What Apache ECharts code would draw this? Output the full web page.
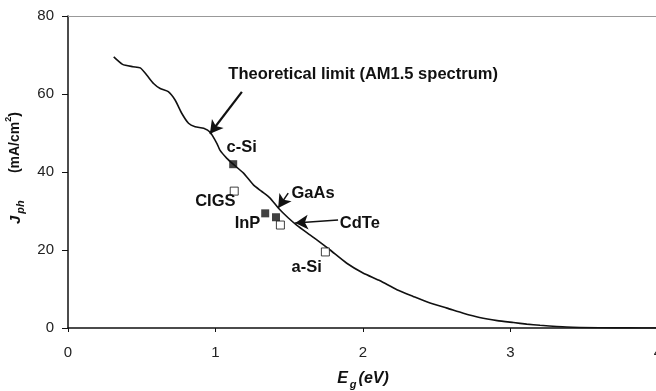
<!DOCTYPE html>
<html>
<head>
<meta charset="utf-8">
<script src="https://cdn.jsdelivr.net/npm/echarts@6/dist/echarts.min.js"></script>
<style>
html,body{margin:0;padding:0;background:#fff;}
#chart{width:656px;height:391px;}
</style>
</head>
<body>
<div id="chart"></div>
<script>
// Theoretical limit curve (AM1.5 spectrum)
var curveEg = [0.31,0.37,0.44,0.49,0.535,0.58,0.625,0.68,0.727,0.772,0.817,0.862,0.92,0.964,1.01,1.03,1.077,1.12,1.19,1.257,1.314,1.37,1.427,1.494,1.55,1.64,1.687,1.777,1.89,2.0,2.116,2.23,2.34,2.455,2.57,2.68,2.79,2.91,3.02,3.11,3.2,3.38,3.6,3.8,4.0];
var curveJ  = [69.5,67.6,67.0,66.7,64.8,62.7,61.4,60.6,58.4,55.0,52.5,51.6,51.2,50.2,47.3,45.6,43.5,42.0,39.7,36.7,35.0,33.3,30.7,28.2,26.4,23.9,22.6,20.0,16.6,14.1,12.1,9.8,8.1,6.4,5.1,3.8,2.7,1.9,1.4,1.0,0.7,0.25,0.05,0.02,0];
// Measured cells: filled squares
var filledNames = ['c-Si','InP','GaAs'];
var filledEg = [1.12,1.337,1.41];
var filledJ  = [42.0,29.4,28.4];
// Measured cells: open squares
var openNames = ['CIGS','CdTe','a-Si'];
var openEg = [1.127,1.44,1.745];
var openJ  = [35.1,26.4,19.5];
// Axis ticks
var xTicks = [0,1,2,3,4];
var yTicks = [0,20,40,60,80];

function zip(a,b){return a.map(function(v,i){return [v,b[i]];});}

var chart = echarts.init(document.getElementById('chart'), null, {renderer:'canvas'});
var txt = {fontFamily:'Liberation Sans, Arial, sans-serif', fontWeight:'bold', fontSize:16.5, color:'#111'};
function lbl(text, x, y){
  return {coord:[x,y], symbol:'circle', symbolSize:0,
    label:Object.assign({show:true, position:'right', distance:0, formatter:text}, txt)};
}
var option = {
  animation:false,
  backgroundColor:'#fff',
  grid:{left:68, right:-2, top:16, bottom:63, containLabel:false, outerBoundsMode:'none'},
  xAxis:[{
    type:'value', min:xTicks[0], max:xTicks[xTicks.length-1], interval:1,
    name:'{e|E}{s|g}{e|(eV)}', nameLocation:'middle', nameGap:40,
    nameTextStyle:{rich:{
      e:{fontFamily:'Liberation Sans, Arial', fontWeight:'bold', fontStyle:'italic', fontSize:16, color:'#111', lineHeight:22},
      s:{fontFamily:'Liberation Sans, Arial', fontWeight:'bold', fontStyle:'italic', fontSize:11, color:'#111', verticalAlign:'bottom', lineHeight:11, padding:[6,2,0,2]}
    }},
    axisLine:{lineStyle:{color:'#111', width:1.5}},
    axisTick:{length:4, lineStyle:{color:'#111'}},
    axisLabel:{fontFamily:'Liberation Sans, Arial', fontSize:15, color:'#222', margin:17},
    splitLine:{show:false}
  },{
    type:'value', position:'top', min:0, max:4,
    axisLine:{show:true, onZero:false, lineStyle:{color:'#999', width:1.2}},
    axisTick:{show:false}, axisLabel:{show:false}, splitLine:{show:false}
  }],
  yAxis:{
    type:'value', min:yTicks[0], max:yTicks[yTicks.length-1], interval:20,
    name:'{n|  }{j|J}{s|ph}{n|       (mA/cm}{p|2}{n|)}', nameLocation:'middle', nameGap:41, nameRotate:90,
    nameTextStyle:{rich:{
      j:{fontFamily:'Liberation Sans, Arial', fontWeight:'bold', fontStyle:'italic', fontSize:15, color:'#111', lineHeight:22},
      s:{fontFamily:'Liberation Sans, Arial', fontWeight:'bold', fontStyle:'italic', fontSize:11, color:'#111', verticalAlign:'bottom', lineHeight:11, padding:[6,0,0,2]},
      n:{fontFamily:'Liberation Sans, Arial', fontWeight:'bold', fontSize:14, color:'#111', lineHeight:22},
      p:{fontFamily:'Liberation Sans, Arial', fontWeight:'bold', fontSize:9, color:'#111', verticalAlign:'top', lineHeight:9, padding:[0,0,7,0]}
    }},
    axisLine:{show:true, lineStyle:{color:'#111', width:1.5}},
    axisTick:{show:true, length:6, lineStyle:{color:'#111'}},
    axisLabel:{fontFamily:'Liberation Sans, Arial', fontSize:15, color:'#222', margin:14},
    splitLine:{show:false}
  },
  series:[
    {
      type:'line', data:zip(curveEg, curveJ), symbol:'none', smooth:0.2,
      lineStyle:{color:'#111', width:1.6}, z:3,
      markLine:{
        silent:true, symbol:['none','arrow'], symbolSize:[11,13], precision:4,
        label:{show:false},
        data:[
          [{coord:[1.179,60.55], lineStyle:{color:'#111', width:2.2, type:'solid'}},{coord:[0.962,49.8]}],
          [{coord:[1.493,34.6], lineStyle:{color:'#111', width:1.5, type:'solid'}, symbolSize:[8,9]},{coord:[1.425,30.8]}],
          [{coord:[1.831,27.7], lineStyle:{color:'#111', width:1.5, type:'solid'}, symbolSize:[9,11]},{coord:[1.54,26.9]}]
        ]
      },
      markPoint:{
        silent:true,
        data:[
          lbl('Theoretical limit (AM1.5 spectrum)', 1.087, 65.1),
          lbl('c-Si', 1.075, 46.4),
          lbl('CIGS', 0.862, 32.4),
          lbl('GaAs', 1.515, 34.4),
          lbl('InP', 1.13, 26.9),
          lbl('CdTe', 1.843, 26.9),
          lbl('a-Si', 1.515, 15.6)
        ]
      }
    },
    {
      type:'scatter', name:'filled', data:zip(filledEg, filledJ), symbol:'rect', symbolSize:8,
      itemStyle:{color:'#111'}, z:4
    },
    {
      type:'scatter', name:'open', data:zip(openEg, openJ), symbol:'rect', symbolSize:8,
      itemStyle:{color:'#fff', borderColor:'#111', borderWidth:1}, z:4
    }
  ]
};
chart.setOption(option);
</script>
</body>
</html>
